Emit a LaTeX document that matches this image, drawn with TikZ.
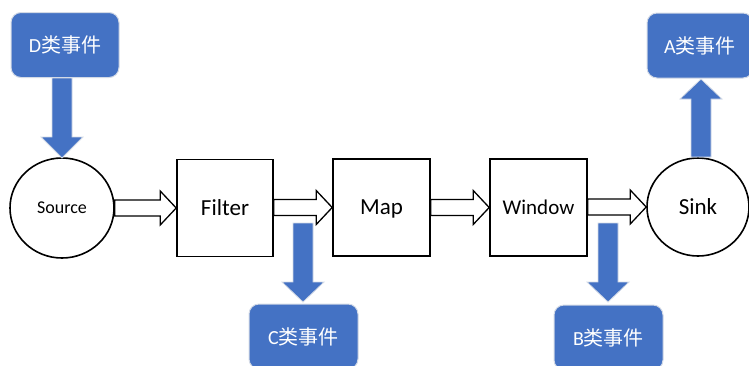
\documentclass[tikz,border=0pt]{standalone}
\usepackage{fontspec}
\setmainfont{Carlito}
\newfontfamily\cjk{Noto Sans CJK SC}
\usetikzlibrary{shapes.geometric,calc}
\definecolor{evblue}{HTML}{4472C4}
\definecolor{evedge}{HTML}{D3DAE6}
\tikzset{
  evbox/.style={draw=evedge, line width=1pt, fill=evblue, rounded corners=10pt, text=white, font=\fontsize{20}{22}\selectfont, inner sep=0pt},
  opbox/.style={draw=black, line width=1.6pt, fill=white, minimum width=96pt, minimum height=97pt, inner sep=0pt},
  opell/.style={draw=black, line width=1.6pt, fill=white, ellipse, inner sep=0pt},
  hollow/.style={draw=black, line width=1.3pt, fill=white, line join=miter},
  bluearr/.style={draw=evedge, line width=0.8pt, fill=evblue, line join=miter}
}
\newcommand\hblock[2]{%
  \path[hollow] let \p1=(#1), \p2=(#2) in
    (\x1,\y2+8pt) -- (\x2-16pt,\y2+8pt) -- (\x2-16pt,\y2+17pt) -- (\x2,\y2)
    -- (\x2-16pt,\y2-17pt) -- (\x2-16pt,\y2-8pt) -- (\x1,\y2-8pt) -- cycle;}
\newcommand\vblock[3]{%
  \path[bluearr] let \p1=(#1), \p2=(#2) in
    (\x2-10pt,\y1) -- (\x2-10pt,{\y2+(#3)}) -- (\x2-21pt,{\y2+(#3)}) -- (\x2,\y2)
    -- (\x2+21pt,{\y2+(#3)}) -- (\x2+10pt,{\y2+(#3)}) -- (\x2+10pt,\y1) -- cycle;}
\begin{document}
\begin{tikzpicture}[x=1pt,y=-1pt]
\useasboundingbox (0,0) rectangle (749,365);
\begin{scope}
\clip (0,0) rectangle (749,365);
% operators
\node[opell, minimum width=104pt, minimum height=100pt, font=\fontsize{18}{20}\selectfont] (source) at (62,208) {Source};
\node[opbox, font=\fontsize{23}{25}\selectfont] (filter) at (225,208) {Filter};
\node[opbox, minimum width=97pt, font=\fontsize{23}{25}\selectfont, text depth=0pt] (map) at (381.5,207.5) {Map};
\node[opbox, minimum width=97pt, font=\fontsize{21}{23}\selectfont] (window) at (538.5,207.5) {Window};
\node[opell, minimum width=102pt, minimum height=98pt, font=\fontsize{23}{25}\selectfont] (sink) at (698,207) {Sink};
% event boxes
\node[evbox, minimum width=108pt, minimum height=65pt] (evD) at (65,45) {D{\cjk 类事件}};
\node[evbox, minimum width=106pt, minimum height=65pt] (evA) at (700,45.5) {A{\cjk 类事件}};
\node[evbox, minimum width=109pt, minimum height=65pt] (evC) at (303.5,336.5) {C{\cjk 类事件}};
\node[evbox, minimum width=109pt, minimum height=65pt] (evB) at (608.5,337.5) {B{\cjk 类事件}};
% data flow
\hblock{source.east}{filter.west}
\hblock{filter.east}{map.west}
\hblock{map.east}{window.west}
\hblock{window.east}{sink.west}
% event arrows
\coordinate (cstart) at (303,223);
\coordinate (bstart) at (608,223);
\coordinate (dtip) at (62,158);
\coordinate (ctip) at (303,302);
\coordinate (btip) at (608,302);
\coordinate (atip) at (701,79);
\coordinate (astart) at (701,157);
\vblock{evD.south}{dtip}{21pt}
\vblock{cstart}{ctip}{20pt}
\vblock{bstart}{btip}{20pt}
\vblock{astart}{atip}{-20pt}
\end{scope}
\end{tikzpicture}
\end{document}
